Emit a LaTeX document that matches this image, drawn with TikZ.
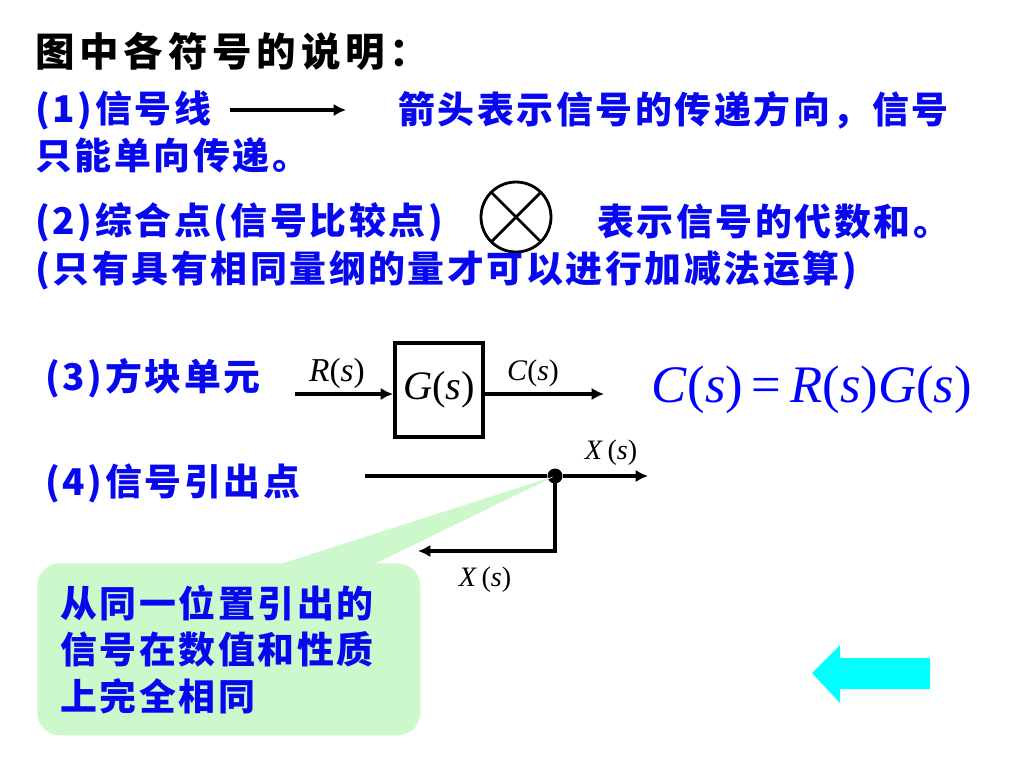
\documentclass[tikz,border=0pt]{standalone}
\usepackage{fontspec}
\setmainfont{Liberation Serif}
\newfontfamily\cjk[LetterSpace=7]{Noto Sans CJK SC}
\newfontfamily\cjkhead[LetterSpace=12]{Noto Sans CJK SC}
\usetikzlibrary{arrows.meta,positioning,calc}
\definecolor{noteblue}{HTML}{0808F0}
\definecolor{calloutgreen}{HTML}{CCF8CC}
\definecolor{backcyan}{HTML}{00FFFF}
\tikzset{
  >=Latex,
  title/.style={font=\cjkhead\bfseries\fontsize{22.5}{27}\selectfont, text=black, anchor=west, inner sep=0pt},
  note/.style={font=\cjk\bfseries\fontsize{21}{25}\selectfont, text=noteblue, anchor=west, inner sep=0pt},
  signal/.style={-{Latex[length=7pt,width=7pt]}, line width=2.2pt},
  wire/.style={line width=2.2pt},
  siglabel/.style={font=\fontsize{19}{22}\selectfont, inner sep=0pt},
  block/.style={draw, line width=2.3pt, minimum width=1.76cm, minimum height=1.88cm,
    font=\fontsize{23}{26}\selectfont, inner sep=0pt},
  sumpoint/.style={circle, draw, line width=1.6pt, minimum size=1.4cm, inner sep=0pt},
  branch/.style={circle, fill, minimum size=0.3cm, inner sep=0pt},
  memo/.style={rectangle, rounded corners=0.45cm, fill=calloutgreen, minimum height=3.44cm,
    text width=6.74cm, inner xsep=0.46cm, align=left, anchor=north west,
    font=\cjk\bfseries\fontsize{21}{26.5}\selectfont, text=noteblue}
}
\newcommand{\vi}[1]{\textit{#1}}

\begin{document}
\begin{tikzpicture}[x=0.02cm, y=-0.02cm]
\useasboundingbox (0,0) rectangle (1024,768);
\node[title] (head) at (35,51) {图中各符号的说明：};
% (1) signal line
\node[note] (item1) at (35,110) {(1)信号线};
\coordinate (l1a) at (230,110);
\coordinate (l1b) at (346,110);
\draw[signal] (l1a) -- (l1b);
\node[note] (item1a) at (398,110) {箭头表示信号的传递方向，信号};
\node[note] (item1b) at (35,155) {只能单向传递。};
% (2) summing point
\node[note] (item2) at (35,222) {(2)综合点(信号比较点)};
\node[sumpoint] (sum) at (516,217) {};
\draw[line width=1.6pt] (sum.north west) -- (sum.south east);
\draw[line width=1.6pt] (sum.north east) -- (sum.south west);
\node[note] (item2a) at (597,222) {表示信号的代数和。};
\node[note] (item2b) at (35,270) {(只有具有相同量纲的量才可以进行加减法运算)};
% (3) block
\node[note] (item3) at (45,378) {(3)方块单元};
\node[block] (blk) at (439,390) {\raisebox{-0.12cm}{\vi{G}(\vi{s})}};
\coordinate (rin) at (295,394);
\coordinate (cout) at (604,394);
\draw[signal] (rin) -- (rin -| blk.west);
\draw[signal] (blk.east |- cout) -- (cout);
\node[siglabel] (rlab) at (337,373) {\vi{R}(\vi{s})};
\node[siglabel, font=\fontsize{17}{20}\selectfont] (clab) at (533,373) {\vi{C}(\vi{s})};
\node[inner sep=0pt, text=blue, font=\fontsize{30}{34}\selectfont] (eq) at (812,390)
  {\vi{C}(\vi{s})\,=\,\vi{R}(\vi{s})\vi{G}(\vi{s})};
% (4) branch point
\node[note] (item4) at (45,483) {(4)信号引出点};
\node[branch] (bp) at (555,476) {};
\coordinate (tailL) at (262,570);
\coordinate (tailR) at (362,570);
\fill[calloutgreen] (tailL) -- (bp.center) -- (tailR) -- cycle;
\node[memo] (note4) at (37,563) {从同一位置引出的\\信号在数值和性质\\上完全相同};
\coordinate (xin) at (365,476);
\coordinate (xout) at (648,476);
\coordinate (fb) at (418,551);
\draw[wire] (xin) -- (bp);
\draw[signal] (bp) -- (xout);
\draw[signal] (bp.center) |- (fb);
\node[siglabel, font=\fontsize{16}{18}\selectfont] (xlab1) at (611,453) {\vi{X}\,(\vi{s})};
\node[siglabel, font=\fontsize{16}{18}\selectfont] (xlab2) at (485,580) {\vi{X}\,(\vi{s})};
% back button
\fill[backcyan] (930,658) -- (840,658) -- (840,645) -- (812,673) -- (840,703) -- (840,689) -- (930,689) -- cycle;
\end{tikzpicture}
\end{document}
